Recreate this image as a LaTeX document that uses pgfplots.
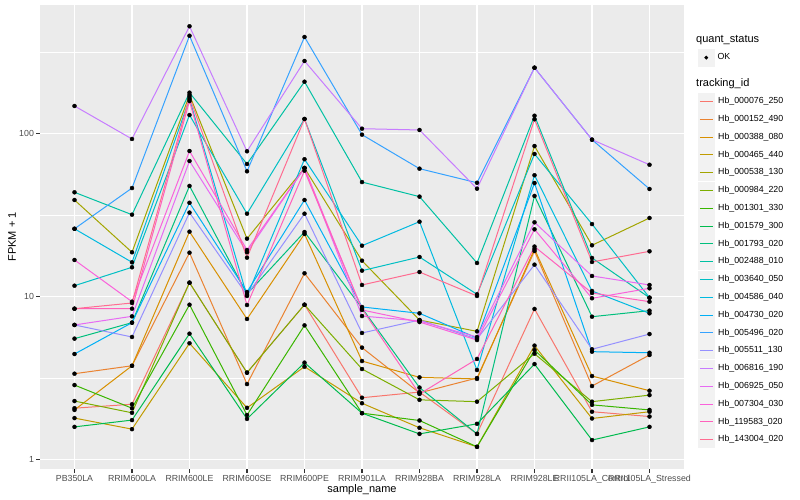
\documentclass[border=0pt]{standalone}
\usepackage{fontspec}
\setmainfont{Liberation Sans}
\usepackage{pgfplots}
\usepackage{pgfplotstable}
\pgfplotsset{compat=1.18}

\definecolor{c1}{HTML}{F8766D}
\definecolor{c2}{HTML}{EA8331}
\definecolor{c3}{HTML}{D89000}
\definecolor{c4}{HTML}{C09B00}
\definecolor{c5}{HTML}{A3A500}
\definecolor{c6}{HTML}{7CAE00}
\definecolor{c7}{HTML}{39B600}
\definecolor{c8}{HTML}{00BB4E}
\definecolor{c9}{HTML}{00BF7D}
\definecolor{c10}{HTML}{00C1A3}
\definecolor{c11}{HTML}{00BFC4}
\definecolor{c12}{HTML}{00BAE0}
\definecolor{c13}{HTML}{00B0F6}
\definecolor{c14}{HTML}{35A2FF}
\definecolor{c15}{HTML}{9590FF}
\definecolor{c16}{HTML}{C77CFF}
\definecolor{c17}{HTML}{E76BF3}
\definecolor{c18}{HTML}{FA62DB}
\definecolor{c19}{HTML}{FF62BC}
\definecolor{c20}{HTML}{FF6C91}
\definecolor{panelbg}{HTML}{EBEBEB}
\definecolor{keybg}{HTML}{F2F2F2}
\definecolor{gray20}{HTML}{333333}
\definecolor{gray30}{HTML}{4D4D4D}

% FPKM + 1, one row per sample, one column per tracking id
\pgfplotstableread{
x  s1    s2    s3    s4   s5    s6    s7   s8   s9    s10   s11   s12   s13  s14  s15   s16   s17   s18   s19   s20
0  2.07  3.37  2.02  1.80 39.2  2.29  2.87 1.59 5.53  43.7  11.68 26.1  4.45 26.1 6.71  147.9 6.71  16.80 8.44  8.44
1  2.19  3.77  3.77  1.54 18.73 1.94  2.07 1.75 6.93  31.85 15.15 16.26 6.93 46.4 5.66  92.8  7.58  9.32  8.44  9.15
2  12.19 18.62 25.05 5.18 172.8 12.19 8.93 5.93 47.8  178.5 130.2 163.3 37.7 399  32.8  456   68.0  78.3  158.7 168
3  3.42  2.91  7.30  2.08 22.69 3.42  1.88 1.78 10.39 65.2  32.3  10.10 10.69 58.8 10.24 78.0  18.73 19.34 8.89  17.35
4  8.93  13.92 24.25 3.72 61.6  8.93  6.67 3.94 24.94 208.4 123.1 69.7  39.2 392  32.3  279.3 61.6  61.6  59.3  123.1
5  2.40  4.87  4.03  2.22 16.63 3.60  1.93 1.93 8.52  50.5  14.44 20.55 8.65 98.6 5.99  107.3 7.61  8.29  8.41  11.80
6  2.60  2.57  3.20  1.57 7.19  2.33  1.74 1.44 2.77  41.1  17.52 28.85 7.91 61.0 7.19  105.4 7.10  6.99  2.53  14.17
7  1.44  3.17  3.13  1.20 6.13  2.27  1.20 1.66 1.44  16.10 10.34 3.55  5.58 50.0 5.50  46.0  5.66  5.42  4.15  10.10
8  8.41  19.07 19.62 5.01 84.0  4.47  4.71 3.86 41.5  128.9 75.1  55.6  49.8 254  15.72 254   28.6  25.9  20.3  122.6
9  1.97  2.83  3.26  1.79 20.67 2.27  2.17 1.32 7.54  17.28 27.9  10.84 4.60 91.9 4.76  91.9  13.40 9.78  10.54 16.33
10 1.84  4.39  2.65  1.97 30.4  2.49  2.02 1.59 8.21  9.86  9.86  7.91  4.53 45.8 5.90  64.5  11.80 11.26 9.32  18.99
}\fpkm

\begin{document}
\begin{tikzpicture}
\useasboundingbox (0,0) rectangle (800pt,500pt);
\begin{axis}[
  at={(40pt,31pt)}, anchor=south west,
  scale only axis, width=644pt, height=464pt,
  ymode=log, ymin=0.877, ymax=616,
  xmin=-0.6, xmax=10.6,
  xtick={0,...,10},
  xticklabels={PB350LA,RRIM600LA,RRIM600LE,RRIM600SE,RRIM600PE,RRIM901LA,RRIM928BA,RRIM928LA,RRIM928LE,RRII105LA\_Control,RRII105LA\_Stressed},
  ytick={1,10,100}, yticklabels={1,10,100},
  minor ytick={3.1623,31.623,316.23},
  grid=both,
  major grid style={white, line width=1.07pt},
  minor grid style={white, line width=0.53pt},
  axis background/.style={fill=panelbg},
  axis lines*=left,
  axis line style={draw=none},
  tick align=outside,
  major tick length=3.7pt, minor tick length=0pt,
  tick style={gray20, line width=1.07pt},
  ticklabel style={font=\fontsize{8.8}{10}\selectfont, text=gray30},
  xticklabel style={inner sep=2pt},
  yticklabel style={inner sep=2.2pt},
  xlabel={sample\_name},
  ylabel={FPKM + 1},
  label style={font=\fontsize{11}{13}\selectfont},
  xlabel style={at={(axis description cs:0.5,0)}, anchor=center, yshift=-21pt},
  ylabel style={at={(axis description cs:0,0.5)}, anchor=center, yshift=28pt},
  legend cell align=left,
  legend style={at={(1,1)}, anchor=north west, xshift=13.6pt, yshift=-87.5pt,
    draw=none, fill=none, inner sep=0pt, row sep=0.2pt, column sep=0pt,
    font=\fontsize{8.8}{10}\selectfont,
    nodes={inner xsep=2.9pt, inner ysep=0pt, text height=6.3pt, text depth=1.8pt}},
  legend image code/.code={
    \fill[keybg] (0pt,-8.3pt) rectangle (16.5pt,8.3pt);
    \draw[#1] (1.5pt,0pt) -- (15pt,0pt);},
  legend entries={Hb\_000076\_250,Hb\_000152\_490,Hb\_000388\_080,Hb\_000465\_440,Hb\_000538\_130,Hb\_000984\_220,Hb\_001301\_330,Hb\_001579\_300,Hb\_001793\_020,Hb\_002488\_010,Hb\_003640\_050,Hb\_004586\_040,Hb\_004730\_020,Hb\_005496\_020,Hb\_005511\_130,Hb\_006816\_190,Hb\_006925\_050,Hb\_007304\_030,Hb\_119583\_020,Hb\_143004\_020},
]
\pgfplotsinvokeforeach{1,...,20}{
  \addplot[c#1, line width=1pt] table[x=x, y=s#1] {\fpkm};
}
\pgfplotsinvokeforeach{1,...,20}{
  \addplot[forget plot, only marks, mark=*, mark size=2pt, black] table[x=x, y=s#1] {\fpkm};
}
\end{axis}
\begin{axis}[
  at={(40pt,31pt)}, anchor=south west,
  scale only axis, width=644pt, height=464pt,
  hide axis, xmin=0, xmax=1, ymin=0, ymax=1,
  legend cell align=left,
  legend style={at={(1,1)}, anchor=north west, xshift=13.6pt, yshift=-44pt,
    draw=none, fill=none, inner sep=0pt,
    font=\fontsize{8.8}{10}\selectfont,
    nodes={inner xsep=2.9pt, inner ysep=0pt, text height=6.3pt, text depth=1.8pt}},
  legend image code/.code={
    \fill[keybg] (0pt,-8.3pt) rectangle (16.5pt,8.3pt);
    \fill[black] (8.25pt,0pt) circle (1.7pt);},
]
\addlegendimage{black}
\addlegendentry{OK}
\end{axis}
\node[anchor=west, inner sep=0pt, font=\fontsize{11}{13}\selectfont] at (696pt,460pt) {quant\_status};
\node[anchor=west, inner sep=0pt, font=\fontsize{11}{13}\selectfont] at (696pt,416pt) {tracking\_id};
\end{tikzpicture}
\end{document}
